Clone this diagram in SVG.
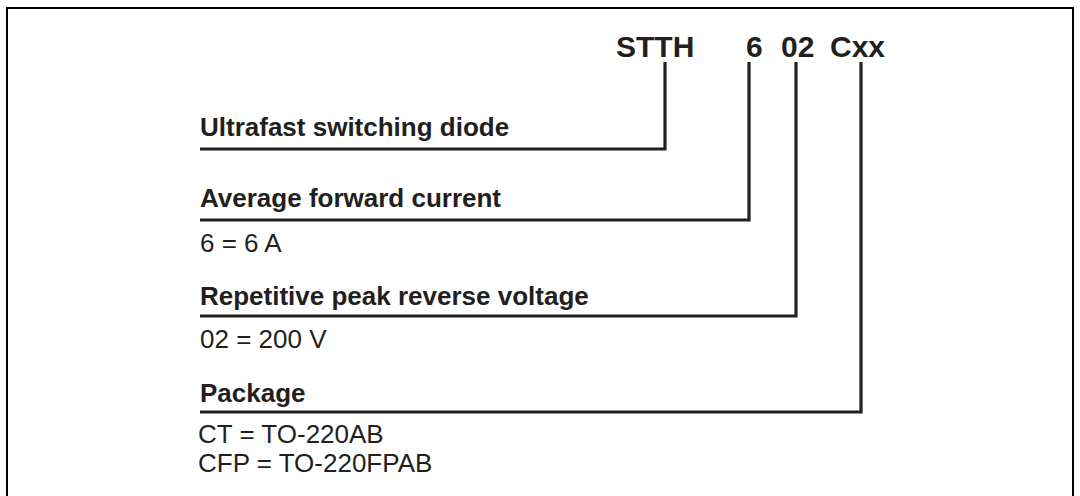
<svg xmlns="http://www.w3.org/2000/svg" width="1080" height="496" viewBox="0 0 1080 496">
<style>
.t{font-family:"Liberation Sans",Arial,sans-serif;fill:#231f20}
.h{font-size:30px;font-weight:bold}
.lb{font-size:26px;font-weight:bold}
.v{font-size:26px}
.c{fill:none;stroke:#231f20;stroke-width:3.2;stroke-linejoin:miter;stroke-linecap:butt}
</style>
<rect width="1080" height="496" fill="#fff"/>
<rect id="frame" x="7" y="8" width="1066" height="520" fill="none" stroke="#000" stroke-width="2"/>
<g id="code">
<text class="t h" x="616" y="57">STTH</text>
<text class="t h" x="746" y="57">6</text>
<text class="t h" x="781" y="57">02</text>
<text class="t h" x="830" y="57">Cxx</text>
</g>
<g id="diode"><text class="t lb" x="200" y="136">Ultrafast switching diode</text></g>
<g id="current"><text class="t lb" x="200" y="207">Average forward current</text><text class="t v" x="200" y="252">6 = 6 A</text></g>
<g id="voltage"><text class="t lb" x="200" y="305">Repetitive peak reverse voltage</text><text class="t v" x="200" y="348">02 = 200 V</text></g>
<g id="package"><text class="t lb" x="200" y="402">Package</text><text class="t v" x="198" y="443">CT = TO-220AB</text><text class="t v" x="198" y="472">CFP = TO-220FPAB</text></g>
<g id="connectors">
<path class="c" d="M665 62 V149 H200"/>
<path class="c" d="M749 62 V220 H200"/>
<path class="c" d="M796 62 V316 H200"/>
<path class="c" d="M861 62 V412 H200"/>
</g>
</svg>
